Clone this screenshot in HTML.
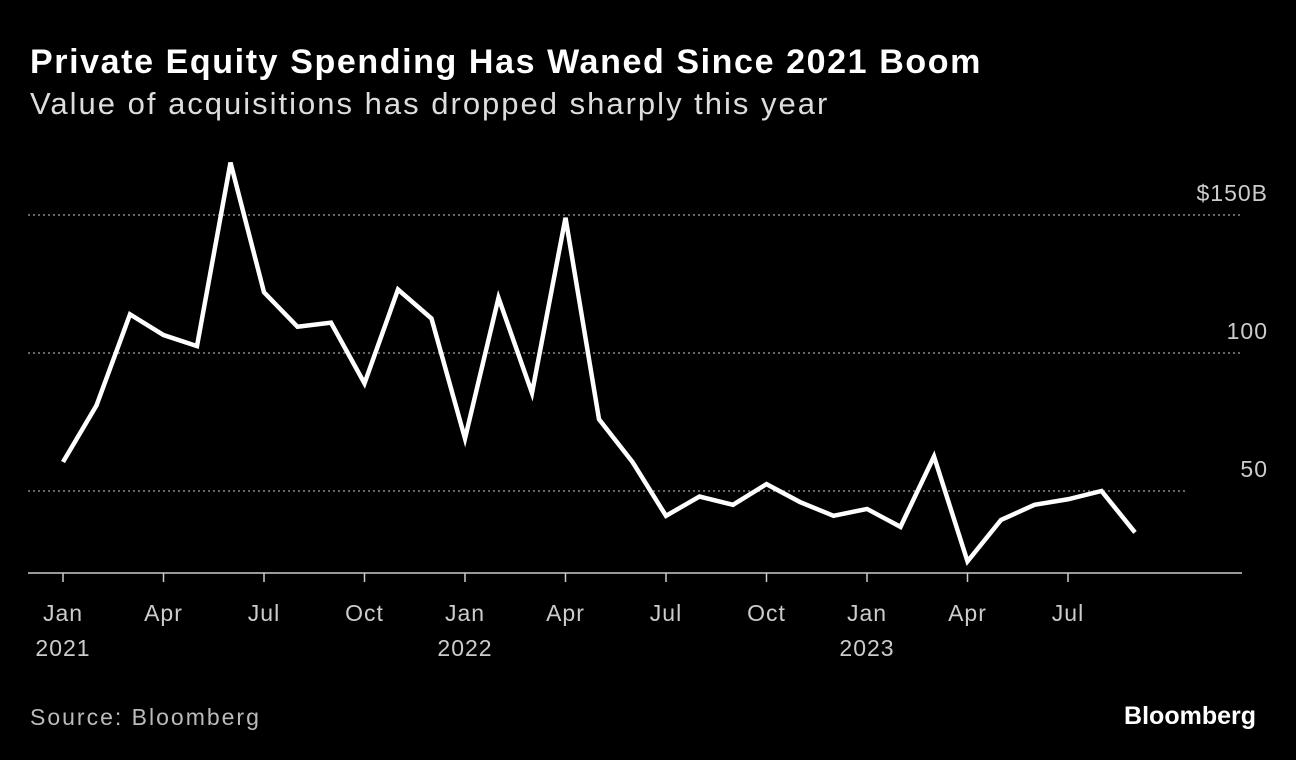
<!DOCTYPE html>
<html><head><meta charset="utf-8"><style>
body{margin:0;background:#000;width:1296px;height:760px;overflow:hidden;font-family:"Liberation Sans",sans-serif;color:#fff}
#t{position:absolute;left:30px;top:43px;font-size:34px;font-weight:bold;letter-spacing:1.6px;white-space:nowrap}
#s{position:absolute;left:30px;top:86px;font-size:31px;color:#ddd;letter-spacing:2px;white-space:nowrap}
#src{position:absolute;left:30px;top:704px;font-size:23px;color:#bbb;letter-spacing:2px}
#brand{position:absolute;right:40px;top:702px;font-size:25px;font-weight:bold}
svg{position:absolute;left:0;top:0}
</style></head><body>
<div id="t">Private Equity Spending Has Waned Since 2021 Boom</div>
<div id="s">Value of acquisitions has dropped sharply this year</div>
<div id="src">Source: Bloomberg</div>
<div id="brand">Bloomberg</div>
<svg id="c" width="1296" height="760"></svg>
<script>
const values=[60.5,81,114,106.5,102.5,169,122,109.5,111,89,123,112.5,69,120,85.5,149,76,60.5,41,48,45,52.5,46,41,43.5,37,62.5,24.5,39.5,45,47,50,35];
const yTicks=[150,100,50];
const yTickLabels=["$150B","100","50"];
const xTickIdx=[0,3,6,9,12,15,18,21,24,27,30];
const xTickLabels=["Jan","Apr","Jul","Oct","Jan","Apr","Jul","Oct","Jan","Apr","Jul"];
const yearLabels=["2021","","","","2022","","","","2023","",""];
const NS="http://www.w3.org/2000/svg",svg=document.getElementById('c');
const x=i=>63+i*33.5, y=v=>629-v*2.76;
function mk(t,a){const e=document.createElementNS(NS,t);for(const k in a)e.setAttribute(k,a[k]);svg.appendChild(e);return e;}
yTicks.forEach((v,i)=>{
 const g=mk('line',{x1:28,x2:i==2?1185:1243,y1:y(v),y2:y(v),stroke:'#888','stroke-width':1.5,'stroke-dasharray':'2,3'});
 
 
 const t=mk('text',{x:1268,y:y(v)-14,'text-anchor':'end','font-size':23,fill:'#ccc','letter-spacing':1});t.textContent=yTickLabels[i];
 
 
});
const b=mk('line',{x1:28,x2:1242,y1:573,y2:573,stroke:'#ccc','stroke-width':1.5});


xTickIdx.forEach((m,i)=>{
 mk('line',{x1:x(m),x2:x(m),y1:573,y2:582,stroke:'#ccc','stroke-width':1.5});
 const t=mk('text',{x:x(m),y:621,'text-anchor':'middle','font-size':23,fill:'#ccc','letter-spacing':1});t.textContent=xTickLabels[i];
 
 
 if(yearLabels[i]){const u=mk('text',{x:x(m),y:656,'text-anchor':'middle','font-size':23,fill:'#ccc','letter-spacing':1});u.textContent=yearLabels[i];
 
 }
});
const p=mk('polyline',{points:values.map((v,i)=>x(i)+','+y(v)).join(' '),fill:'none',stroke:'#fff','stroke-width':4.5,'stroke-linejoin':'miter'});


</script>
</body></html>
